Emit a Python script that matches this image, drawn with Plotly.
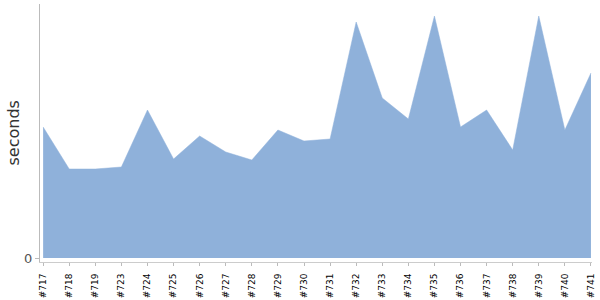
import plotly.graph_objects as go

builds = ["#717", "#718", "#719", "#723", "#724", "#725", "#726", "#727", "#728", "#729", "#730",
          "#731", "#732", "#733", "#734", "#735", "#736", "#737", "#738", "#739", "#740", "#741"]
seconds = [131, 89, 89, 91, 148, 99, 122, 106, 98, 128, 117,
           119, 236, 160, 139, 242, 131, 148, 108, 242, 128, 185]

fig = go.Figure()
fig.add_trace(go.Scatter(
    x=list(range(len(builds))), y=seconds, mode="lines", fill="tozeroy",
    line=dict(color="rgba(143,177,218,1)", width=0.5),
    fillcolor="rgb(143,177,218)", hoverinfo="skip", showlegend=False,
))
fig.update_layout(
    width=600, height=300, margin=dict(l=40, r=8, t=4, b=38),
    plot_bgcolor="white", paper_bgcolor="white",
    font=dict(family="DejaVu Sans", color="#444"),
)
fig.update_xaxes(
    range=[-0.12, 21.04], tickmode="array", tickvals=list(range(len(builds))), ticktext=builds,
    tickangle=-90, tickfont=dict(size=9, color="#000", family="DejaVu Sans"),
    showgrid=False, zeroline=False, showline=True, linecolor="#ccc", linewidth=1,
    ticks="outside", ticklen=3, tickcolor="#bbb", ticklabelstandoff=4, automargin=False,
)
fig.update_yaxes(
    range=[-4, 254], tickmode="array", tickvals=[0], ticktext=["0"],
    tickfont=dict(size=13, color="#555"),
    showgrid=False, zeroline=False, showline=True, linecolor="#bbb", linewidth=1,
    ticks="outside", ticklen=4, tickcolor="#bbb", automargin=False,
)
fig.add_annotation(
    text="seconds", xref="paper", yref="paper", x=(12.5 - 40) / 552, y=0.5,
    xanchor="center", yanchor="middle", textangle=-90, showarrow=False,
    font=dict(size=16, color="#333"),
)
fig.write_html("out.html")
